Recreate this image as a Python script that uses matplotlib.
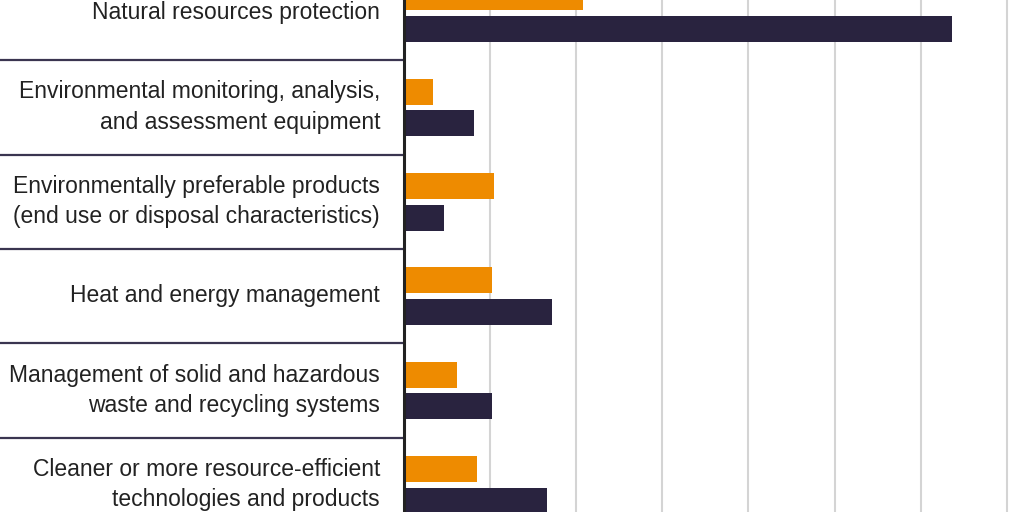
import numpy as np
import matplotlib.pyplot as plt

categories = [
    "Natural resources protection",
    "Environmental monitoring, analysis,\nand assessment equipment",
    "Environmentally preferable products\n(end use or disposal characteristics)",
    "Heat and energy management",
    "Management of solid and hazardous\nwaste and recycling systems",
    "Cleaner or more resource-efficient\ntechnologies and products",
]
orange_vals = [10.4, 1.7, 5.2, 5.1, 3.1, 4.25]
dark_vals = [31.8, 4.05, 2.3, 8.6, 5.1, 8.3]

ORANGE = "#EE8B00"
DARK = "#29233F"

fig = plt.figure(figsize=(10.24, 5.12), dpi=100)
ax = fig.add_axes([404 / 1024, 0, 620 / 1024, 1])

y = np.arange(len(categories))
h = 0.275
off = 0.168
ax.barh(y - off, orange_vals, height=h, color=ORANGE, zorder=3)
ax.barh(y + off, dark_vals, height=h, color=DARK, zorder=3)

ax.set_xlim(0, 36)
ax.set_ylim(5.286, -0.138)
ax.set_xticks(np.arange(5, 36, 5))
ax.xaxis.grid(True, color="#d4d4d4", linewidth=1.5, zorder=0)
ax.tick_params(length=0, labelbottom=False, labelleft=False)
for s in ["top", "right", "bottom"]:
    ax.spines[s].set_visible(False)
ax.spines["left"].set_color("#222222")
ax.spines["left"].set_linewidth(2.2)
ax.spines["left"].set_zorder(4)

# category labels and separators drawn left of the axes
for i, lab in enumerate(categories):
    ax.text(-24 / 86.2 * 5, i - 0.005, lab, ha="right", va="center", fontsize=16.5,
            family="Liberation Sans", color="#222222", linespacing=1.4,
            transform=ax.transData, clip_on=False)
for i in range(len(categories) - 1):
    ax.plot([-404 / 86.2 * 5, 0], [i + 0.5, i + 0.5], color="#3a3550",
            linewidth=1.6, clip_on=False, solid_capstyle="butt")

fig.savefig("out.png", dpi=100)
